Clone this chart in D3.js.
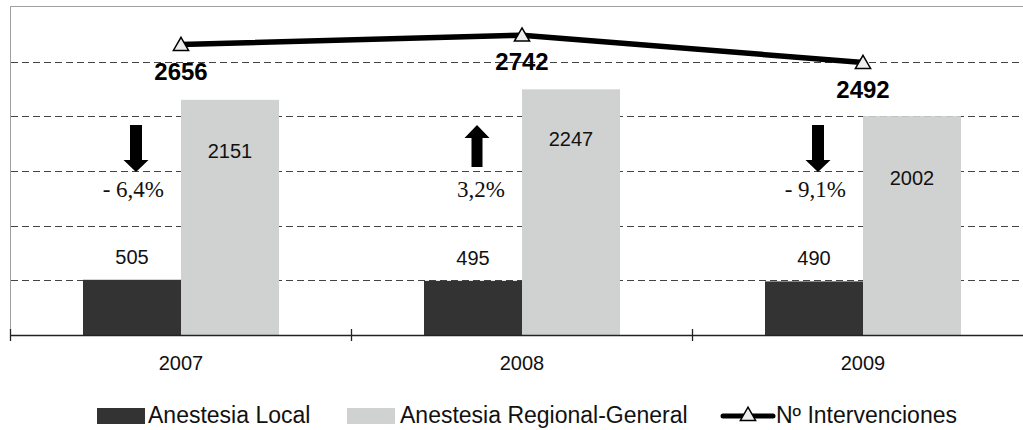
<!DOCTYPE html>
<html>
<head>
<meta charset="utf-8">
<script src="https://cdn.jsdelivr.net/npm/d3@7"></script>
<style>
  html, body { margin: 0; padding: 0; background: #fff; }
  svg { display: block; }
</style>
</head>
<body>
<svg id="chart" width="1023" height="430"></svg>
<script>
// ---- data ----
const years = ["2007", "2008", "2009"];
const localValues = [505, 495, 490];
const regionalValues = [2151, 2247, 2002];
const interventions = [2656, 2742, 2492];
const changePct = [-6.4, 3.2, -9.1];
const yTicks = [500, 1000, 1500, 2000, 2500];
const seriesNames = ["Anestesia Local", "Anestesia Regional-General", "Nº Intervenciones"];

// ---- styling / layout ----
const regionalLabelDy = [58, 57, 69];
const colLocal = "#333333";
const colRegional = "#d0d2d2";
const sans = "'Liberation Sans', Arial, sans-serif";
const serif = "'Liberation Serif', 'Times New Roman', serif";

const svg = d3.select("#chart");
svg.append("rect").attr("width", 1023).attr("height", 430).attr("fill", "#fff");

const x = d3.scaleBand().domain(years).range([10.5, 1033.5]).padding(0);
const bw = x.bandwidth();
const barW = 98;
const xs = d3.scaleBand().domain(["local", "regional"]).range([bw / 2 - barW, bw / 2 + barW]);
const y = d3.scaleLinear().domain([0, 3000]).range([335, 7]);

// frame (left and top)
svg.append("line").attr("x1", 10.5).attr("x2", 10.5).attr("y1", 6.5).attr("y2", 335)
  .attr("stroke", "#a0a0a0").attr("stroke-width", 1);
svg.append("line").attr("x1", 10).attr("x2", 1023).attr("y1", 6.5).attr("y2", 6.5)
  .attr("stroke", "#a0a0a0").attr("stroke-width", 1);

// gridlines
svg.append("g").selectAll("line").data(yTicks).join("line")
  .attr("x1", 11).attr("x2", 1023)
  .attr("y1", d => Math.round(y(d)) + 0.5).attr("y2", d => Math.round(y(d)) + 0.5)
  .attr("stroke", "#444").attr("stroke-width", 1).attr("stroke-dasharray", "7,4");

// bars
const groups = svg.append("g").selectAll("g").data(years).join("g")
  .attr("transform", d => `translate(${x(d)},0)`);
groups.append("rect")
  .attr("x", xs("local")).attr("width", xs.bandwidth())
  .attr("y", (d, i) => y(localValues[i])).attr("height", (d, i) => y(0) - y(localValues[i]))
  .attr("fill", colLocal);
groups.append("rect")
  .attr("x", xs("regional")).attr("width", xs.bandwidth())
  .attr("y", (d, i) => y(regionalValues[i])).attr("height", (d, i) => y(0) - y(regionalValues[i]))
  .attr("fill", colRegional);

// bar labels
groups.append("text")
  .attr("x", xs("local") + xs.bandwidth() / 2)
  .attr("y", (d, i) => y(localValues[i]) - 16)
  .attr("text-anchor", "middle").attr("font-family", sans).attr("font-size", 20).attr("fill", "#111")
  .text((d, i) => localValues[i]);
groups.append("text")
  .attr("x", xs("regional") + xs.bandwidth() / 2)
  .attr("y", (d, i) => y(regionalValues[i]) + regionalLabelDy[i])
  .attr("text-anchor", "middle").attr("font-family", sans).attr("font-size", 20).attr("fill", "#111")
  .text((d, i) => regionalValues[i]);

// x axis
const axG = svg.append("g").attr("transform", "translate(0,335)");
axG.append("line").attr("x1", 10).attr("x2", 1023).attr("y1", 0.5).attr("y2", 0.5)
  .attr("stroke", "#222").attr("stroke-width", 1.3);
axG.selectAll("line.tk").data(years).join("line").attr("class", "tk")
  .attr("x1", d => x(d)).attr("x2", d => x(d)).attr("y1", -6).attr("y2", 6)
  .attr("stroke", "#222").attr("stroke-width", 1.3);
axG.selectAll("text.cat").data(years).join("text").attr("class", "cat")
  .attr("x", d => x(d) + bw / 2).attr("y", 35)
  .attr("text-anchor", "middle").attr("font-family", sans).attr("font-size", 20).attr("fill", "#111")
  .text(d => d);

// arrows + percentages
const arrowG = svg.append("g");
years.forEach((yr, i) => {
  const ax = x(yr) + bw / 2 - 45;
  const v = changePct[i];
  const sw = 6, hw = 12.5;
  let p;
  if (v < 0) {
    p = `M${ax - sw},125 L${ax + sw},125 L${ax + sw},160 L${ax + hw},160 L${ax},172 L${ax - hw},160 L${ax - sw},160 Z`;
  } else {
    p = `M${ax},125 L${ax + hw},138 L${ax + sw - 0.5},138 L${ax + sw - 0.5},167 L${ax - sw + 0.5},167 L${ax - sw + 0.5},138 L${ax - hw},138 Z`;
  }
  arrowG.append("path").attr("d", p).attr("fill", "#000");
  const lbl = (v < 0 ? "- " : "") + d3.format(".1f")(Math.abs(v)).replace(".", ",") + "%";
  arrowG.append("text").attr("x", ax + 28).attr("y", 197)
    .attr("text-anchor", "end").attr("font-family", serif).attr("font-size", 23).attr("fill", "#111")
    .text(lbl);
});

// line series
const cx = d => x(d) + bw / 2;
const lineGen = d3.line().x((d, i) => cx(years[i])).y(d => y(d));
svg.append("path").datum(interventions).attr("d", lineGen)
  .attr("fill", "none").attr("stroke", "#000").attr("stroke-width", 5.5).attr("stroke-linejoin", "round");
const tri = d3.symbol().type(d3.symbolTriangle).size(100);
svg.append("g").selectAll("path").data(interventions).join("path")
  .attr("d", tri)
  .attr("transform", (d, i) => `translate(${cx(years[i])},${y(d) + 1.5})`)
  .attr("fill", "#eeeeee").attr("stroke", "#000").attr("stroke-width", 1.5);
svg.append("g").selectAll("text").data(interventions).join("text")
  .attr("x", (d, i) => cx(years[i])).attr("y", d => y(d) + 35)
  .attr("text-anchor", "middle").attr("font-family", sans).attr("font-weight", "bold")
  .attr("font-size", 24).attr("fill", "#000")
  .text(d => d);

// legend
const lg = svg.append("g").attr("font-family", sans).attr("font-size", 23).attr("fill", "#111");
lg.append("rect").attr("x", 97).attr("y", 408).attr("width", 48).attr("height", 16).attr("fill", colLocal);
lg.append("text").attr("x", 148).attr("y", 423).text(seriesNames[0]);
lg.append("rect").attr("x", 347).attr("y", 408).attr("width", 48).attr("height", 16).attr("fill", colRegional);
lg.append("text").attr("x", 400).attr("y", 423).text(seriesNames[1]);
lg.append("line").attr("x1", 723).attr("x2", 773).attr("y1", 416).attr("y2", 416)
  .attr("stroke", "#000").attr("stroke-width", 5).attr("stroke-linecap", "round");
lg.append("path").attr("d", tri).attr("transform", "translate(748,416)")
  .attr("fill", "#eeeeee").attr("stroke", "#000").attr("stroke-width", 1.5);
lg.append("text").attr("x", 776).attr("y", 423).text(seriesNames[2]);
</script>
</body>
</html>
